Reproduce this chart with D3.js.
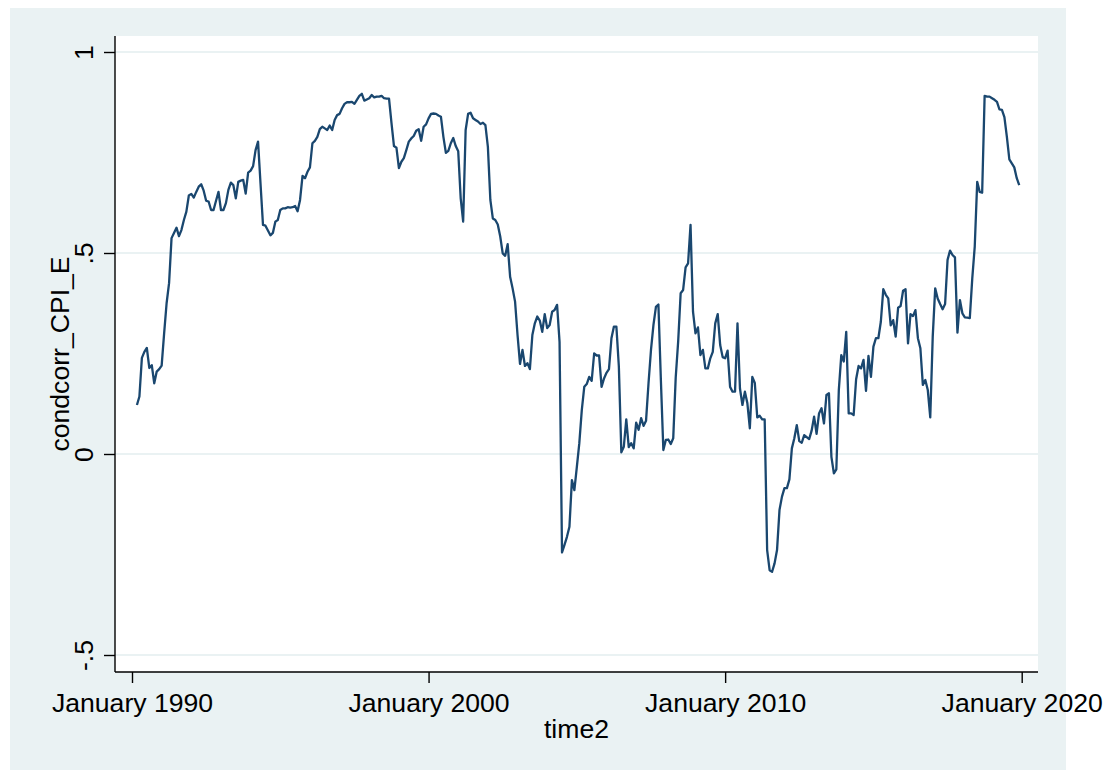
<!DOCTYPE html>
<html>
<head>
<meta charset="utf-8">
<script src="https://cdn.jsdelivr.net/npm/d3@7"></script>
<style>
  body { margin: 0; background: #fff; }
  svg text { font-family: 'Liberation Sans', Arial, sans-serif; fill: #000; }
  .grid line { stroke: #eaf2f3; stroke-width: 2; }
  .axis line, .axis-line { stroke: #000; stroke-width: 1.4; }
  .series { fill: none; stroke: #1a476f; stroke-width: 2.3; stroke-linejoin: round; }
</style>
</head>
<body>
<div id="chart-container"></div>
<script>
// monthly series, first value is March 1990 (month index 2 from January 1990)
const FIRST_MONTH = 2;
const condcorr = [
  0.122, 0.143, 0.239, 0.254, 0.264, 0.214, 0.221, 0.176, 0.205, 0.211,
  0.220, 0.300, 0.375, 0.425, 0.537, 0.550, 0.563, 0.542, 0.557, 0.582,
  0.603, 0.643, 0.647, 0.638, 0.652, 0.665, 0.671, 0.655, 0.630, 0.628,
  0.607, 0.607, 0.630, 0.652, 0.607, 0.607, 0.624, 0.657, 0.675, 0.669,
  0.636, 0.677, 0.680, 0.682, 0.648, 0.700, 0.705, 0.716, 0.756, 0.777,
  0.673, 0.570, 0.568, 0.556, 0.544, 0.550, 0.578, 0.582, 0.607, 0.611,
  0.611, 0.614, 0.613, 0.614, 0.617, 0.604, 0.632, 0.692, 0.686, 0.702,
  0.713, 0.773, 0.779, 0.789, 0.808, 0.814, 0.810, 0.806, 0.817, 0.806,
  0.831, 0.843, 0.846, 0.860, 0.871, 0.875, 0.875, 0.876, 0.871, 0.881,
  0.891, 0.896, 0.879, 0.882, 0.885, 0.893, 0.887, 0.889, 0.889, 0.891,
  0.885, 0.884, 0.884, 0.823, 0.766, 0.762, 0.711, 0.727, 0.736, 0.756,
  0.777, 0.785, 0.791, 0.804, 0.808, 0.779, 0.814, 0.820, 0.835, 0.846,
  0.847, 0.846, 0.842, 0.839, 0.789, 0.749, 0.754, 0.773, 0.786, 0.766,
  0.753, 0.636, 0.578, 0.806, 0.846, 0.849, 0.835, 0.831, 0.827, 0.821,
  0.824, 0.818, 0.764, 0.632, 0.586, 0.582, 0.571, 0.541, 0.499, 0.493,
  0.522, 0.441, 0.412, 0.379, 0.296, 0.224, 0.259, 0.219, 0.226, 0.211,
  0.296, 0.325, 0.342, 0.332, 0.304, 0.348, 0.313, 0.321, 0.354, 0.358,
  0.371, 0.279, -0.245, -0.226, -0.206, -0.181, -0.065, -0.090, -0.032, 0.027,
  0.109, 0.167, 0.174, 0.192, 0.182, 0.250, 0.245, 0.245, 0.167, 0.188,
  0.202, 0.211, 0.288, 0.317, 0.317, 0.217, 0.004, 0.018, 0.086, 0.017,
  0.027, 0.014, 0.078, 0.060, 0.089, 0.070, 0.083, 0.176, 0.259, 0.321,
  0.366, 0.372, 0.184, 0.010, 0.035, 0.036, 0.025, 0.039, 0.190, 0.280,
  0.400, 0.408, 0.464, 0.474, 0.570, 0.354, 0.300, 0.315, 0.246, 0.259,
  0.213, 0.213, 0.238, 0.254, 0.325, 0.348, 0.271, 0.241, 0.238, 0.257,
  0.167, 0.155, 0.155, 0.325, 0.163, 0.122, 0.155, 0.126, 0.064, 0.192,
  0.177, 0.091, 0.095, 0.086, 0.086, -0.239, -0.289, -0.293, -0.272, -0.239,
  -0.139, -0.106, -0.085, -0.085, -0.063, 0.014, 0.039, 0.072, 0.032, 0.028,
  0.047, 0.042, 0.037, 0.058, 0.093, 0.050, 0.101, 0.114, 0.076, 0.147,
  0.151, -0.007, -0.048, -0.038, 0.159, 0.246, 0.230, 0.304, 0.101, 0.101,
  0.097, 0.186, 0.219, 0.213, 0.234, 0.157, 0.244, 0.192, 0.267, 0.288,
  0.288, 0.329, 0.410, 0.396, 0.387, 0.320, 0.333, 0.292, 0.364, 0.368,
  0.406, 0.410, 0.275, 0.348, 0.343, 0.358, 0.288, 0.263, 0.172, 0.184,
  0.159, 0.091, 0.292, 0.412, 0.387, 0.373, 0.360, 0.373, 0.483, 0.506,
  0.495, 0.489, 0.302, 0.383, 0.350, 0.340, 0.339, 0.338, 0.437, 0.516,
  0.677, 0.652, 0.650, 0.891, 0.889, 0.889, 0.885, 0.881, 0.876, 0.857,
  0.856, 0.838, 0.789, 0.733, 0.723, 0.713, 0.686, 0.669
];

// months since January 1990
const xTickMonths = [0, 120, 240, 360];
const xTickLabels = ['January 1990', 'January 2000', 'January 2010', 'January 2020'];
const yTicks = [-0.5, 0, 0.5, 1];
const yTickLabels = ['-.5', '0', '.5', '1'];

const width = 1114,
  height = 771;
const fontSize = '26.6px';

// plot region (white area inside the grey graph region)
const plot = {left: 115, right: 1038, top: 36, bottom: 672};

const xScale = d3.scaleLinear()
  .domain([0, 360])
  .range([132, 1021.7]);
const yScale = d3.scaleLinear()
  .domain([-0.5, 1])
  .range([655, 52]);

const svg = d3.select('div#chart-container')
  .append('svg')
  .attr('width', width)
  .attr('height', height);

// graph region background
svg.append('rect')
  .attr('x', 10)
  .attr('y', 8)
  .attr('width', 1056)
  .attr('height', 762)
  .attr('fill', '#eaf2f3');

svg.append('rect')
  .attr('x', plot.left)
  .attr('y', plot.top)
  .attr('width', plot.right - plot.left)
  .attr('height', plot.bottom - plot.top)
  .attr('fill', '#fff');

// horizontal grid lines
svg.append('g')
  .attr('class', 'grid')
  .selectAll('line')
  .data(yTicks)
  .join('line')
  .attr('x1', plot.left)
  .attr('x2', plot.right)
  .attr('y1', yScale)
  .attr('y2', yScale);

const lineGen = d3.line()
  .x((_, i) => xScale(FIRST_MONTH + i))
  .y(yScale);

svg.append('path')
  .datum(condcorr)
  .attr('class', 'series')
  .attr('d', lineGen);

// y axis, labels rotated like Stata does
const yAxis = svg.append('g')
  .attr('class', 'axis')
  .attr('transform', `translate(${plot.left}, 0)`)
  .call(d3.axisLeft(yScale)
    .tickValues(yTicks)
    .tickFormat((_, i) => yTickLabels[i])
    .tickSize(11)
    .tickSizeOuter(0));
yAxis.select('.domain').remove();
yAxis.selectAll('text')
  .attr('x', null)
  .attr('dy', null)
  .attr('text-anchor', 'middle')
  .attr('transform', 'translate(-22, 0) rotate(-90)')
  .style('font-size', fontSize);

const xAxis = svg.append('g')
  .attr('class', 'axis')
  .attr('transform', `translate(0, ${plot.bottom})`)
  .call(d3.axisBottom(xScale)
    .tickValues(xTickMonths)
    .tickFormat((_, i) => xTickLabels[i])
    .tickSize(11)
    .tickSizeOuter(0));
xAxis.select('.domain').remove();
xAxis.selectAll('text')
  .attr('y', 40)
  .attr('dy', null)
  .style('font-size', fontSize);

// axis lines span the whole plot region
svg.append('line')
  .attr('class', 'axis-line')
  .attr('x1', plot.left).attr('x2', plot.left)
  .attr('y1', plot.top).attr('y2', plot.bottom);
svg.append('line')
  .attr('class', 'axis-line')
  .attr('x1', plot.left).attr('x2', plot.right)
  .attr('y1', plot.bottom).attr('y2', plot.bottom);

// axis titles
svg.append('text')
  .attr('x', (plot.left + plot.right) / 2)
  .attr('y', 738)
  .attr('text-anchor', 'middle')
  .style('font-size', fontSize)
  .text('time2');

svg.append('text')
  .attr('transform', `translate(69, ${(plot.top + plot.bottom) / 2}) rotate(-90)`)
  .attr('text-anchor', 'middle')
  .style('font-size', fontSize)
  .text('condcorr_CPI_E');
</script>
</body>
</html>
